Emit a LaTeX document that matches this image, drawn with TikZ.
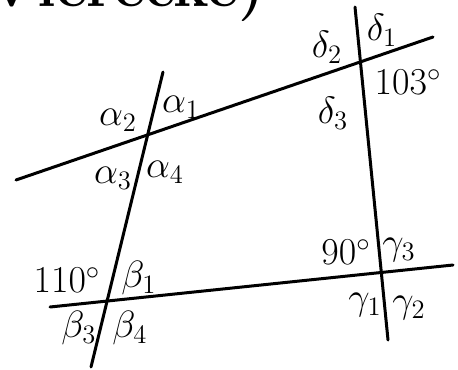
\RequirePackage{fix-cm}
\documentclass[tikz,border=0pt]{standalone}
\usetikzlibrary{intersections}

\tikzstyle{line} = [line width=1.5pt, line cap=round]
\tikzstyle{angle} = [font=\fontsize{19}{23}\selectfont, inner sep=0pt]
\tikzstyle{heading} = [anchor=base west, inner sep=0pt, font=\bfseries\fontsize{30}{36}\selectfont]

\begin{document}
\begin{tikzpicture}[x=0.5pt, y=-0.5pt]
\path [use as bounding box, clip] (0,0) rectangle (458,369);

% Heading, cut off at the top
\node (title) [heading] at (-14,7) {Vierecke)};

% Line ends
\coordinate (topW) at (16,180);
\coordinate (topE) at (433,37);
\coordinate (botW) at (50,307);
\coordinate (botE) at (453,265);
\coordinate (leftN) at (163,72);
\coordinate (leftS) at (91,367);
\coordinate (rightN) at (355,7);
\coordinate (rightS) at (388,340);

% Draw lines
\draw [line, name path=top] (topW) -- (topE);
\draw [line, name path=bottom] (botW) -- (botE);
\draw [line, name path=left] (leftN) -- (leftS);
\draw [line, name path=right] (rightN) -- (rightS);
\path [name intersections={of=top and left, by=A}];
\path [name intersections={of=top and right, by=D}];
\path [name intersections={of=bottom and left, by=B}];
\path [name intersections={of=bottom and right, by=G}];

% Angles at A
\node (a1) [angle] at (181,107) {$\alpha_1$};
\node (a2) [angle] at (118,120) {$\alpha_2$};
\node (a3) [angle] at (113,178) {$\alpha_3$};
\node (a4) [angle] at (165,172) {$\alpha_4$};

% Angles at D
\node (d1) [angle] at (382,30) {$\delta_1$};
\node (d2) [angle] at (327,47) {$\delta_2$};
\node (d3) [angle] at (333,113) {$\delta_3$};
\node (w103) [angle] at (408,82) {$103^\circ$};

% Angles at B
\node (w110) [angle] at (67,280) {$110^\circ$};
\node (b1) [angle] at (139,278) {$\beta_1$};
\node (b3) [angle] at (79,328) {$\beta_3$};
\node (b4) [angle] at (130,328) {$\beta_4$};

% Angles at G
\node (w90) [angle] at (346,252) {$90^\circ$};
\node (g3) [angle] at (399,250) {$\gamma_3$};
\node (g1) [angle] at (365,305) {$\gamma_1$};
\node (g2) [angle] at (409,308) {$\gamma_2$};

\end{tikzpicture}
\end{document}
